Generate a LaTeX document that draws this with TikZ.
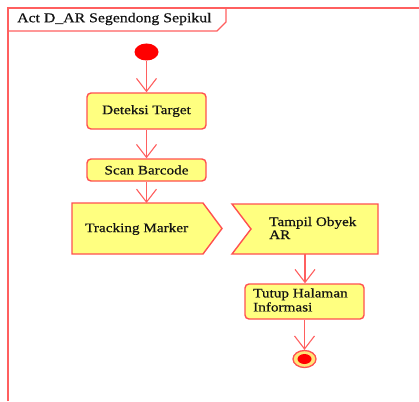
\documentclass[tikz,border=0pt]{standalone}
\usepackage{fontspec}
\setmainfont{Liberation Serif}[FakeStretch=1.17,FakeBold=0.6]
\usetikzlibrary{arrows.meta,shapes.geometric}
\definecolor{umlred}{RGB}{255,80,80}
\definecolor{umlfill}{RGB}{255,255,128}
\definecolor{linered}{RGB}{255,95,95}
\definecolor{endfill}{RGB}{255,230,120}
\definecolor{txt}{RGB}{20,20,20}
\begin{document}
\begin{tikzpicture}[x=1pt,y=-1pt,
  actbox/.style={draw=umlred, fill=umlfill, line width=1.4pt, rounded corners=4pt, inner sep=0pt, text=txt},
  sigbox/.style={draw=umlred, fill=umlfill, line width=1.4pt},
  ghost/.style={inner sep=0pt, outer sep=0pt},
  flow/.style={draw=linered, line width=1.1pt, -{Straight Barb[length=13pt,width=20pt,line width=1.1pt]}},
  frame/.style={draw=linered, line width=1.3pt},
  lbl/.style={font=\fontsize{13}{13}\selectfont, align=left, inner sep=0pt, text=txt}]
\useasboundingbox (0,0) rectangle (419,401);

% frame
\draw[frame] (8,401) -- (8,8) -- (419,8);
\draw[frame] (8,31) -- (217,31) -- (226,22) -- (226,8);
\node[lbl, anchor=west, font=\fontsize{13.5}{13.5}\selectfont] (title) at (17,19) {Act D\_AR Segendong Sepikul};

% initial
\node[ellipse, fill=red, minimum width=24pt, minimum height=17pt, inner sep=0pt] (init) at (146.5,52) {};

% actions
\node[actbox, minimum width=119pt, minimum height=36pt, font=\fontsize{13}{13}\selectfont] (det) at (146.5,111) {Deteksi Target};
\node[actbox, minimum width=119pt, minimum height=22pt, font=\fontsize{13}{13}\selectfont] (scan) at (146.5,170) {Scan Barcode};

% send signal
\path[sigbox] (72,203) -- (203,203) -- (222,228.5) -- (203,254) -- (72,254) -- cycle;
\node[ghost, minimum width=131pt, minimum height=51pt] (track) at (137.5,228.5) {};
\node[lbl, anchor=west] (tracktxt) at (85,229) {Tracking Marker};

% accept signal
\path[sigbox] (232,204) -- (378,204) -- (378,254) -- (232,254) -- (251,229) -- cycle;
\node[ghost, minimum width=146pt, minimum height=50pt] (tampil) at (305,229) {};
\node[lbl, anchor=west] (tampiltxt) at (269,228) {Tampil Obyek\\AR};

% close
\node[actbox, minimum width=119pt, minimum height=35pt] (tutup) at (304.5,301.5) {};
\node[lbl, anchor=west, font=\fontsize{13}{14}\selectfont] (tutuptxt) at (253,300) {Tutup Halaman\\Informasi};

% final
\node[ellipse, draw=umlred, fill=endfill, line width=1.3pt, minimum width=23pt, minimum height=17pt, inner sep=0pt] (fin) at (304.5,359) {};
\node[ellipse, fill=red, minimum width=14pt, minimum height=10pt, inner sep=0pt] (fininner) at (fin.center) {};

% flows
\draw[flow] (init) -- (det);
\draw[flow] (det) -- (scan);
\draw[flow] (scan.south) -- (scan.south |- track.north);
\draw[flow] (tampil.south) -- (tampil.south |- tutup.north);
\draw[flow] (tutup) -- (fin);
\end{tikzpicture}
\end{document}
